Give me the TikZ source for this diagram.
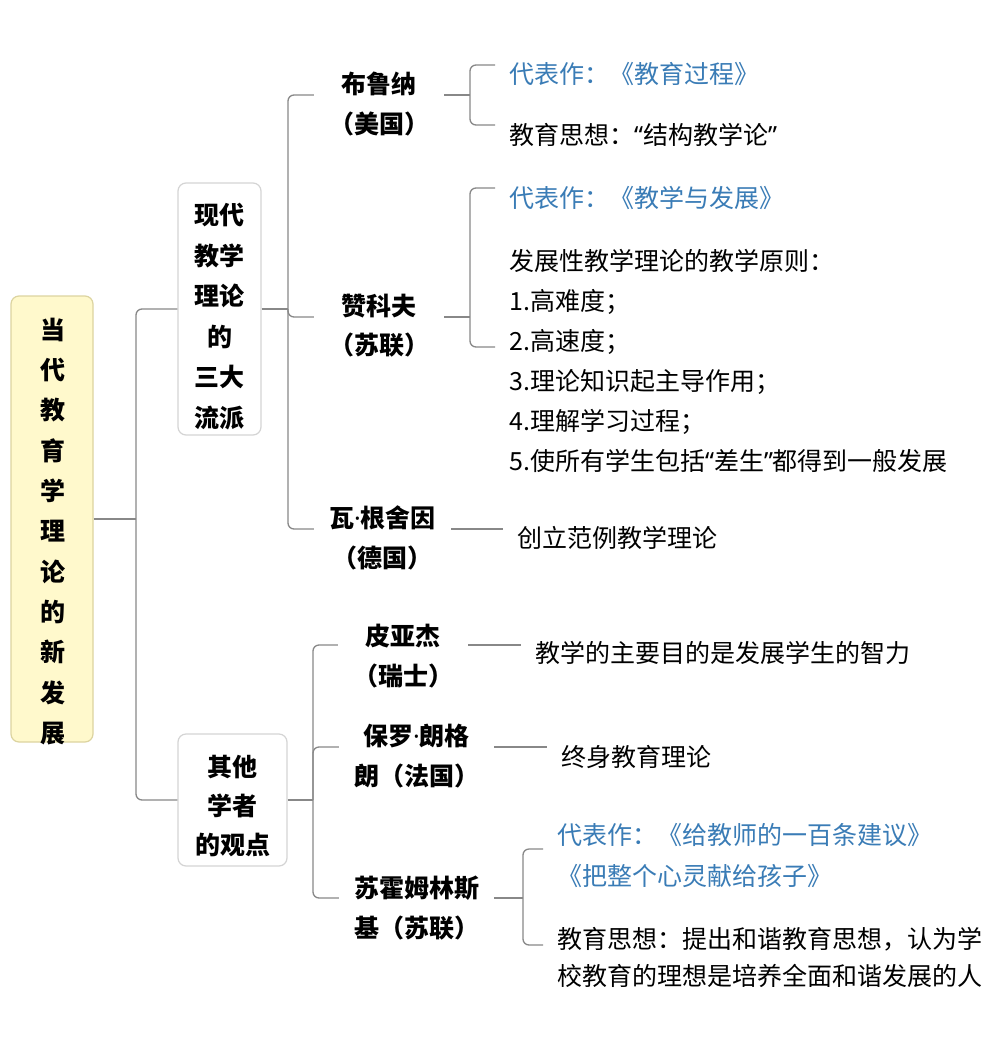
\documentclass[tikz,border=0pt]{standalone}
\usepackage{fontspec}
\setmainfont{Noto Sans CJK SC}
\newfontfamily\latinfont{Noto Sans}
\newcommand{\mdot}{{\latinfont ·}}
\newcommand{\lqt}{{\latinfont “}}
\newcommand{\rqt}{{\latinfont ”}}
\definecolor{linegray}{RGB}{136,136,136}
\definecolor{leafblue}{RGB}{58,124,182}
\definecolor{rootfill}{RGB}{255,249,204}
\definecolor{rootdraw}{RGB}{220,212,160}
\definecolor{boxdraw}{RGB}{212,212,212}
\tikzset{
  conn/.style={draw=linegray, line width=1.3pt, rounded corners=6pt},
  rootbox/.style={draw=rootdraw, fill=rootfill, rounded corners=8pt, line width=1.2pt, minimum width=82pt, minimum height=446pt},
  catbox/.style={draw=boxdraw, fill=white, rounded corners=8pt, line width=1.2pt},
  boxtext/.style={font=\bfseries\fontsize{25}{40.6}\selectfont, align=center, inner sep=0pt},
  person/.style={font=\bfseries\fontsize{25}{39.5}\selectfont, align=center, inner xsep=15pt, inner ysep=2pt},
  leaf/.style={font=\fontsize{25}{40}\selectfont, align=left, anchor=west, inner xsep=14pt, inner ysep=2pt},
  blueleaf/.style={leaf, text=leafblue},
}
\begin{document}
\begin{tikzpicture}[x=1pt,y=-1pt]
\useasboundingbox[fill=white] (0,0) rectangle (996,1037);

% root
\node[rootbox] (root) at (52,519) {};
\node[boxtext, font=\bfseries\fontsize{25}{40.3}\selectfont] (roottxt) at (53,531.5)
  {当\\代\\教\\育\\学\\理\\论\\的\\新\\发\\展};

% category boxes
\node[catbox, minimum width=83pt, minimum height=252pt] (b1) at (219.5,309) {};
\node[boxtext] (b1t) at (219.5,316.5) {现代\\教学\\理论\\的\\三大\\流派};
\node[catbox, minimum width=109pt, minimum height=132pt] (b2) at (232.5,800) {};
\node[boxtext, font=\bfseries\fontsize{25}{39}\selectfont] (b2t) at (232.5,806) {其他\\学者\\的观点};

% persons
\node[person] (n11) at (379,104) {布鲁纳\\（美国）};
\node[person] (n12) at (379,325.5) {赞科夫\\（苏联）};
\node[person] (n13) at (382.5,538) {瓦\mdot 根舍因\\（德国）};
\node[person] (n21) at (403,656) {皮亚杰\\（瑞士）};
\node[person] (n22) at (416.5,756) {保罗\mdot 朗格\\朗（法国）};
\node[person] (n23) at (416.5,908) {苏霍姆林斯\\基（苏联）};

% leaves
\node[blueleaf] (l111) at (495,74) {代表作：《教育过程》};
\node[leaf] (l112) at (495,135) {教育思想：\lqt 结构教学论\rqt};
\node[blueleaf] (l121) at (495,198) {代表作：《教学与发展》};
\node[leaf] (l122) at (495,360.5) {发展性教学理论的教学原则：\\1.高难度；\\2.高速度；\\3.理论知识起主导作用；\\4.理解学习过程；\\5.使所有学生包括\lqt 差生\rqt 都得到一般发展};
\node[leaf] (l131) at (503,538) {创立范例教学理论};
\node[leaf] (l211) at (521,653) {教学的主要目的是发展学生的智力};
\node[leaf] (l221) at (547,757) {终身教育理论};
\node[blueleaf, font=\fontsize{25}{41}\selectfont] (l231) at (543,855) {代表作：《给教师的一百条建议》\\《把整个心灵献给孩子》};
\node[leaf, font=\fontsize{25}{37}\selectfont] (l232) at (543,957) {教育思想：提出和谐教育思想，认为学\\校教育的理想是培养全面和谐发展的人};

% junctions
\coordinate (j0) at (136,519);
\coordinate (j1) at (288,309);
\coordinate (j11) at (470,95);
\coordinate (j12) at (470,317);
\coordinate (j2) at (313,800);
\coordinate (j23) at (523,898);

% connectors
\draw[conn] (root.east) -- (j0);
\draw[conn] (b1.west) -| (j0) |- (b2.west);

\draw[conn] (b1.east) -- (j1);
\draw[conn] ([yshift=9pt]n11.west) -| (j1) |- ([yshift=9pt]n13.west);
\draw[conn] (j1) |- ([yshift=8.5pt]n12.west);

\draw[conn] ([yshift=9pt]n11.east) -- (j11);
\draw[conn] ([yshift=9pt]l111.west) -| (j11) |- ([yshift=10pt]l112.west);

\draw[conn] ([yshift=8.5pt]n12.east) -- (j12);
\draw[conn] ([yshift=10pt]l121.west) -| (j12) |- ([yshift=13.5pt]l122.west);

\draw[conn] ([yshift=9pt]n13.east) -- ([yshift=9pt]l131.west);

\draw[conn] (b2.east) -- (j2);
\draw[conn] ([yshift=11pt]n21.west) -| (j2) |- ([yshift=10pt]n23.west);
\draw[conn] (j2) |- ([yshift=9pt]n22.west);

\draw[conn] ([yshift=11pt]n21.east) -- ([yshift=8pt]l211.west);
\draw[conn] ([yshift=9pt]n22.east) -- ([yshift=10pt]l221.west);

\draw[conn] ([yshift=10pt]n23.east) -- (j23);
\draw[conn] ([yshift=6pt]l231.west) -| (j23) |- ([yshift=12pt]l232.west);
\end{tikzpicture}
\end{document}
